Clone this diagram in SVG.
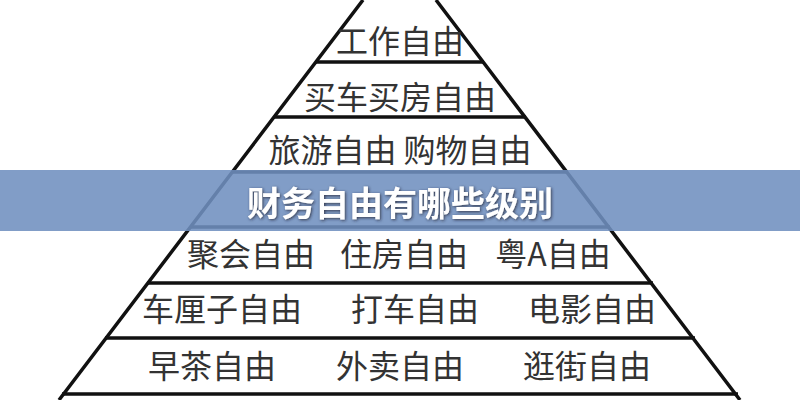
<svg xmlns="http://www.w3.org/2000/svg" width="800" height="400" viewBox="0 0 800 400">
<style>
.t{font-family:"Noto Sans CJK SC","Noto Sans",sans-serif;font-size:32px;fill:#333;text-anchor:middle;dominant-baseline:central}
.l{stroke:#111;stroke-width:3.5;fill:none}
</style>
<defs><filter id="sh"><feDropShadow dx="1" dy="1" stdDeviation="1.5" flood-color="#223" flood-opacity="0.8"/></filter></defs>
<rect width="800" height="400" fill="#fff"/>
<g id="connectors">
<path class="l" d="M363,0 L59,400 M436,0 L740,400"/>
<path class="l" d="M316,62 H484 M274,117 H526 M232,172 H568 M190,227 H610 M147,283 H653 M105,338 H695 M62,394 H738"/>
</g>
<g id="n1"><text class="t" x="400" y="39">工作自由</text></g>
<g id="n2"><text class="t" x="400" y="95">买车买房自由</text></g>
<g id="n3"><text class="t" x="400" y="148">旅游自由 购物自由</text></g>
<g id="n5"><text class="t" x="251" y="252">聚会自由</text><text class="t" x="404" y="252">住房自由</text><text class="t" x="553" y="252">粤A自由</text></g>
<g id="n6"><text class="t" x="222" y="307">车厘子自由</text><text class="t" x="415" y="307">打车自由</text><text class="t" x="592" y="307">电影自由</text></g>
<g id="n7"><text class="t" x="212" y="364">早茶自由</text><text class="t" x="400" y="364">外卖自由</text><text class="t" x="587" y="364">逛街自由</text></g>
<g id="banner">
<rect x="0" y="170" width="800" height="61" fill="#7090bf" fill-opacity="0.88"/>
<text x="400" y="201" font-family="Noto Sans CJK SC,sans-serif" font-size="34" font-weight="bold" fill="#fff" text-anchor="middle" dominant-baseline="central" filter="url(#sh)">财务自由有哪些级别</text>
</g>
</svg>
